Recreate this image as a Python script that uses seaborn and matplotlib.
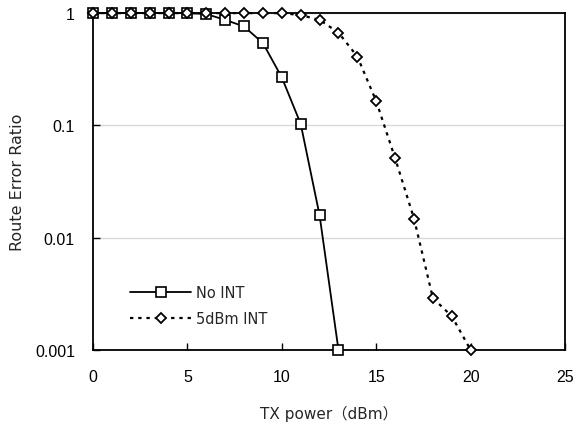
import numpy as np
import pandas as pd
import matplotlib
matplotlib.use("Agg")
import matplotlib.pyplot as plt
import seaborn as sns

# ── Data ──────────────────────────────────────────────────────────────────────
tx_no_int = [0, 1, 2, 3, 4, 5, 6, 7, 8, 9, 10, 11, 12, 13]
err_no_int = [1, 1, 1, 1, 1, 1, 0.98, 0.87, 0.76, 0.54, 0.267, 0.103, 0.0158, 0.001]

tx_5dbm = [0, 1, 2, 3, 4, 5, 6, 7, 8, 9, 10, 11, 12, 13, 14, 15, 16, 17, 18, 19, 20]
err_5dbm = [1, 1, 1, 1, 1, 1, 1, 1, 1, 1, 1, 0.96, 0.87, 0.67, 0.41, 0.164,
            0.051, 0.0148, 0.0029, 0.0020, 0.001]

x_ticks = [0, 5, 10, 15, 20, 25]
y_ticks = [0.001, 0.01, 0.1, 1]
y_ticklabels = ["0.001", "0.01", "0.1", "1"]

# ── Plot ──────────────────────────────────────────────────────────────────────
sns.set_style("white")
plt.rcParams["font.family"] = ["Liberation Sans", "DejaVu Sans"]
label_font = ["DejaVu Sans", "Noto Sans CJK JP"]

fig = plt.figure(figsize=(5.76, 4.27), dpi=100)
ax = fig.add_axes([0.1615, 0.178, 0.8195, 0.789])

df_a = pd.DataFrame({"x": tx_no_int, "y": err_no_int})
df_b = pd.DataFrame({"x": tx_5dbm, "y": err_5dbm})

sns.lineplot(data=df_a, x="x", y="y", ax=ax, color="black", linewidth=1.3,
             marker="s", markersize=7, markerfacecolor="white",
             markeredgecolor="black", markeredgewidth=1.2,
             label="No INT", clip_on=False, zorder=4)
sns.lineplot(data=df_b, x="x", y="y", ax=ax, color="black", linewidth=1.6,
             linestyle=(0, (1.5, 2.2)),
             marker="D", markersize=5.5, markerfacecolor="white",
             markeredgecolor="black", markeredgewidth=1.3,
             label="5dBm INT", clip_on=False, zorder=5)

ax.set_yscale("log")
ax.set_xlim(0, 25)
ax.set_ylim(0.001, 1)
ax.set_xticks(x_ticks)
ax.set_yticks(y_ticks)
ax.set_yticklabels(y_ticklabels)
ax.minorticks_off()

ax.yaxis.grid(True, color="#d9d9d9", linewidth=1)
ax.set_axisbelow(True)

for sp in ax.spines.values():
    sp.set_visible(True)
    sp.set_color("black")
    sp.set_linewidth(1.3)

ax.tick_params(axis="x", direction="in", length=5, width=1, pad=14,
               labelsize=11.5, bottom=True, colors="black")
ax.tick_params(axis="y", direction="in", length=5, width=1, pad=13,
               labelsize=11.5, left=True, colors="black")

ax.set_xlabel("TX power（dBm）", fontsize=11, labelpad=15, family=label_font)
ax.set_ylabel("Route Error Ratio", fontsize=11.5, labelpad=7, family=label_font)

ax.legend(loc="lower left", bbox_to_anchor=(0.066, 0.053), frameon=False,
          prop={"family": label_font, "size": 10.5},
          handlelength=4.2, numpoints=1, labelspacing=0.8,
          handletextpad=0.3, borderaxespad=0)

fig.savefig("out.png", dpi=100)
